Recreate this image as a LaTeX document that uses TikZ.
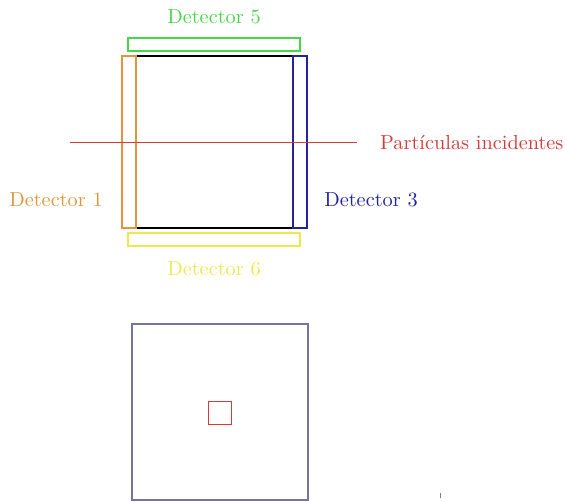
\documentclass[tikz,border=0pt]{standalone}
\usepackage{graphicx}
\definecolor{detorange}{RGB}{225,150,60}
\definecolor{detgreen}{RGB}{70,215,70}
\definecolor{detyellow}{RGB}{238,232,80}
\definecolor{detblue}{RGB}{35,35,160}
\definecolor{partred}{RGB}{210,60,60}
\definecolor{frameblue}{RGB}{115,115,165}
\newcommand{\biglbl}[1]{\scalebox{2.03}{#1}}
\tikzset{
  lbl/.style={inner sep=0pt, anchor=center},
  thin/.style={line width=1.1pt},
}
\begin{document}
\begin{tikzpicture}[x=1pt,y=-1pt]
\useasboundingbox (0,0) rectangle (565,502);
% main block
\draw[black, line width=1.4pt] (136,56) rectangle (293,228);
% detectors
\draw[detorange, thin] (122,56) rectangle (136,228);
\draw[detblue, thin] (293,56) rectangle (307,228);
\draw[detblue, line width=2.6pt] (293,56) -- (293,228);
\draw[detgreen, thin] (128,38) rectangle (300,51);
\draw[detyellow, thin] (128,233) rectangle (300,246);
% particle line
\coordinate (pstart) at (70,142);
\node[lbl, text=partred, anchor=west] (plabel) at (380,143) {\biglbl{Partículas incidentes}};
\draw[partred, line width=0.7pt] (pstart) -- (357,142);
% labels
\node[lbl, text=detgreen] (d5) at (214,17) {\biglbl{Detector 5}};
\node[lbl, text=detorange] (d1) at (56,200) {\biglbl{Detector 1}};
\node[lbl, text=detblue] (d3) at (371,200) {\biglbl{Detector 3}};
\node[lbl, text=detyellow] (d6) at (214,269) {\biglbl{Detector 6}};
% lower view
\draw[frameblue, line width=1.2pt] (132,324) rectangle (308,500);
\draw[partred, line width=0.9pt] (208,401) rectangle (231,424);
% small tick
\draw[gray, line width=1pt] (440,493) -- (440,498);
\end{tikzpicture}
\end{document}
